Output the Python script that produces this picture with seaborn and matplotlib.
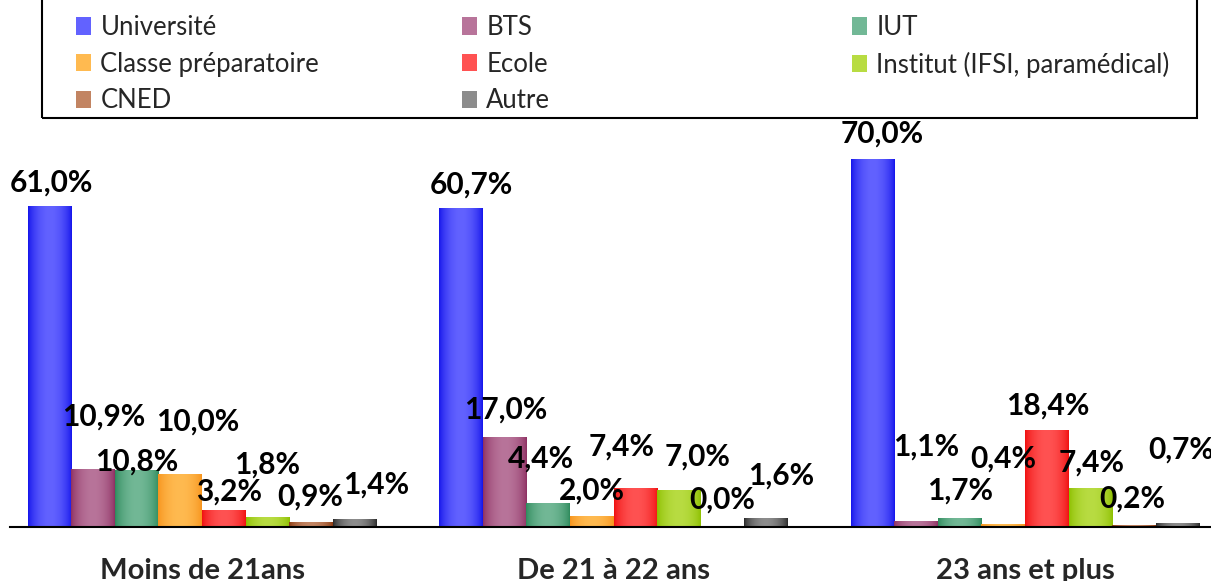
import numpy as np
import pandas as pd
import seaborn as sns
import matplotlib.pyplot as plt
from matplotlib.patches import Patch, Rectangle
from matplotlib.colors import to_rgb

# données
groupes = ['Moins de 21ans', 'De 21 à 22 ans', '23 ans et plus']
types = ['Université', 'BTS', 'IUT', 'Classe préparatoire', 'Ecole',
         'Institut (IFSI, paramédical)', 'CNED', 'Autre']
universite = [61.0, 60.7, 70.0]
bts = [10.9, 17.0, 1.1]
iut = [10.8, 4.4, 1.7]
prepa = [10.0, 2.0, 0.4]
ecole = [3.2, 7.4, 18.4]
institut = [1.8, 7.0, 7.4]
cned = [0.9, 0.0, 0.2]
autre = [1.4, 1.6, 0.7]
valeurs = [universite, bts, iut, prepa, ecole, institut, cned, autre]

# couleurs (bord, centre) pour le dégradé
bords = ['#1414EB', '#8E3062', '#2E8A5C', '#F7941D', '#F01010', '#8DBF00', '#8B3A10', '#2A2A2A']
centres = ['#6262FF', '#B8749A', '#72B896', '#FFBA50', '#FF5252', '#B8DC42', '#C28462', '#8C8C8C']

# décalage des étiquettes (pixels) par rapport au haut de la barre
decalages = [
    [(2, 26), (10, 26), (9, 28)],
    [(10, 55), (1, 30), (10, 77)],
    [(0, 11), (-7, 47), (0, 29)],
    [(17, 55), (0, 28), (0, 68)],
    [(5, 21), (-14, 44), (1, 27)],
    [(0, 55), (19, 36), (1, 28)],
    [(-1, 28), (0, 29), (-2, 29)],
    [(22, 37), (15, 45), (4, 76)],
]

df = pd.DataFrame({
    'age': np.tile(groupes, len(types)),
    'type': np.repeat(types, len(groupes)),
    'pct': np.concatenate(valeurs),
})

sns.set_style('white')
plt.rcParams['font.family'] = ['Lato', 'DejaVu Sans']

W, H = 1211, 581
fig = plt.figure(figsize=(W / 100, H / 100), dpi=100)
ax = fig.add_axes([10 / W, 54 / H, 1201 / W, 420 / H])

sns.barplot(data=df, x='age', y='pct', hue='type', order=groupes, hue_order=types,
            palette=bords, width=0.846, gap=0, saturation=1, legend=False, ax=ax)

xlim = (-0.4666, 2.452)
ylim = (0, 80)

# dégradé horizontal façon Excel
t = np.linspace(0, 1, 64)
profil = np.sin(np.pi * t) ** 0.7
for i, cont in enumerate(ax.containers):
    c0 = np.array(to_rgb(bords[i]))
    c1 = np.array(to_rgb(centres[i]))
    img = (c0[None, :] * (1 - profil[:, None]) + c1[None, :] * profil[:, None])[None, :, :]
    for j, bar in enumerate(cont):
        x0 = bar.get_x()
        w = bar.get_width()
        h = bar.get_height()
        if h > 0:
            ax.imshow(img, extent=[x0, x0 + w, 0, h], aspect='auto',
                      interpolation='bilinear', zorder=bar.get_zorder() + 0.1)
        dx, dy = decalages[i][j]
        ax.annotate(f'{valeurs[i][j]:.1f}%'.replace('.', ','),
                    xy=(x0 + w / 2, h), xytext=(dx, dy - 11), textcoords='offset pixels',
                    ha='center', va='baseline', fontsize=21.5, fontweight='bold',
                    color='black', zorder=5, annotation_clip=False)

ax.set_xlim(*xlim)
ax.set_ylim(*ylim)
ax.set_aspect('auto')

for s in ['top', 'right', 'left']:
    ax.spines[s].set_visible(False)
ax.spines['bottom'].set_color('black')
ax.spines['bottom'].set_linewidth(1.5)
ax.set_yticks([])
ax.set_xticks([0, 1, 2])
ax.set_xticklabels(groupes, fontsize=21, fontweight='bold')
ax.set_xticks([0.5, 1.5], minor=True)
ax.tick_params(axis='x', which='major', length=0, pad=22)
ax.tick_params(axis='x', which='minor', length=7, width=1.5, direction='out', color='black')
ax.set_xlabel('')
ax.set_ylabel('')

# légende en trois colonnes dans un cadre
handles = [Patch(facecolor=centres[i], edgecolor='none') for i in range(len(types))]
colonnes = [[0, 3, 6], [1, 4, 7], [2, 5]]
xs = [76, 462, 852]
for col, xp in zip(colonnes, xs):
    fig.legend([handles[k] for k in col], [types[k] for k in col],
               loc='upper left', bbox_to_anchor=(xp / W, 1 - 15 / H),
               frameon=False, fontsize=18.5, borderpad=0, borderaxespad=0,
               handlelength=0.6, handleheight=0.65, handletextpad=0.35,
               labelspacing=0.45)
fig.patches.append(Rectangle((42 / W, 1 - 118 / H), (1197 - 42) / W, 130 / H,
                             transform=fig.transFigure, fill=False,
                             edgecolor='black', linewidth=1.5))

fig.savefig('out.png', dpi=100)
